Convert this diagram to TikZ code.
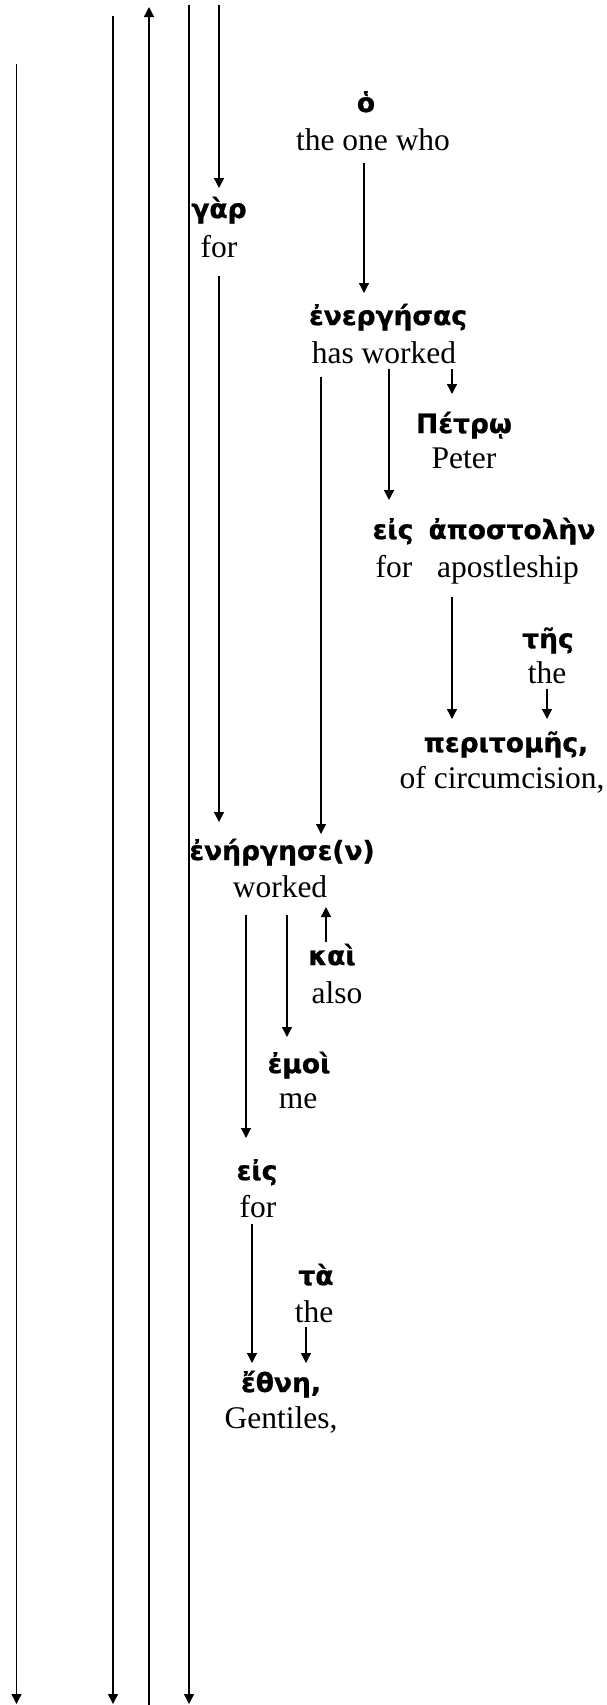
\documentclass[tikz,border=0pt]{standalone}
\usepackage{fontspec}
\setmainfont{Liberation Serif}
\newfontfamily\grkfam[Script=Greek,BoldFeatures={FakeBold=1}]{DejaVu Sans}
\usetikzlibrary{arrows.meta}
\newcommand{\engsize}{\fontsize{31.5}{38}\selectfont}
\newcommand{\grksize}{\fontsize{26.5}{32}\selectfont}
\tikzset{
  eng/.style={font=\engsize\rmfamily, inner sep=0pt, anchor=base},
  grk/.style={font=\grksize\grkfam\bfseries, inner sep=0pt, anchor=base},
  arr/.style={line width=1.3pt, -{Triangle[width=10pt,length=10pt]}},
  plain/.style={line width=1.3pt}
}
\begin{document}
\begin{tikzpicture}[x=1pt,y=-1pt]
\useasboundingbox (0,0) rectangle (607,1705);
% words
\node[grk] (g1) at (366,112) {ὁ};
\node[eng] (e1) at (373,150) {the one who};
\node[grk] (g2) at (219,218) {γὰρ};
\node[eng] (e2) at (219,257) {for};
\node[grk] (g3) at (388,325) {ἐνεργήσας};
\node[eng] (e3) at (384,363) {has worked};
\node[grk] (g4) at (464,433) {Πέτρῳ};
\node[eng] (e4) at (464,468) {Peter};
\node[grk] (g5a) at (393,539) {εἰς};
\node[grk] (g5b) at (512,539) {ἀποστολὴν};
\node[eng] (e5a) at (394,577) {for};
\node[eng] (e5b) at (508,577) {apostleship};
\node[grk] (g6) at (548,648) {τῆς};
\node[eng] (e6) at (547,683) {the};
\node[grk] (g7) at (506,752) {περιτομῆς,};
\node[eng] (e7) at (502,788) {of circumcision,};
\node[grk] (g8) at (282,860) {ἐνήργησε(ν)};
\node[eng] (e8) at (280,897) {worked};
\node[grk] (g9) at (332,965) {καὶ};
\node[eng] (e9) at (337,1003) {also};
\node[grk] (g10) at (299,1073) {ἐμοὶ};
\node[eng] (e10) at (298,1108) {me};
\node[grk] (g11) at (257,1180) {εἰς};
\node[eng] (e11) at (258,1217) {for};
\node[grk] (g12) at (316,1285) {τὰ};
\node[eng] (e12) at (314,1322) {the};
\node[grk] (g13) at (281,1392) {ἔθνη,};
\node[eng] (e13) at (281,1428) {Gentiles,};
% free ends of the long lines
\coordinate (c1s) at (16.5,64);  \coordinate (c1e) at (16.5,1704);
\coordinate (c2s) at (113,16);   \coordinate (c2e) at (113,1704);
\coordinate (c3s) at (149,1705); \coordinate (c3e) at (149,7);
\coordinate (c4s) at (189,5);    \coordinate (c4e) at (189,1704);
\coordinate (c5s) at (219,5);
\draw[arr] (c1s) -- (c1e);
\draw[arr] (c2s) -- (c2e);
\draw[arr] (c3s) -- (c3e);
\draw[arr] (c4s) -- (c4e);
\draw[arr] (c5s) -- ([shift={(0,-30)}]g2.base);
% connectors
\draw[arr] ([shift={(0,19)}]e2.base) -- ([shift={(-63,-38)}]g8.base);
\draw[arr] ([shift={(-9,13)}]e1.base) -- ([shift={(-24,-32)}]g3.base);
\draw[arr] ([shift={(-63,14)}]e3.base) -- ([shift={(39,-26)}]g8.base);
\draw[arr] ([shift={(5,6)}]e3.base) -- ([shift={(-4,-39)}]g5a.base);
\draw[arr] ([shift={(68,6)}]e3.base) -- ([shift={(-12,-39)}]g4.base);
\draw[arr] ([shift={(-56,20)}]e5b.base) -- ([shift={(-54,-33)}]g7.base);
\draw[arr] ([shift={(0,6)}]e6.base) -- ([shift={(41,-33)}]g7.base);
\draw[arr] ([shift={(-34,18)}]e8.base) -- ([shift={(-11,-42)}]g11.base);
\draw[arr] ([shift={(7,18)}]e8.base) -- ([shift={(-12,-36)}]g10.base);
\draw[arr] ([shift={(-6,-23)}]g9.base) -- ([shift={(46,10)}]e8.base);
\draw[arr] ([shift={(-6,7)}]e11.base) -- ([shift={(-29,-29)}]g13.base);
\draw[arr] ([shift={(-8,5)}]e12.base) -- ([shift={(25,-29)}]g13.base);
\end{tikzpicture}
\end{document}
